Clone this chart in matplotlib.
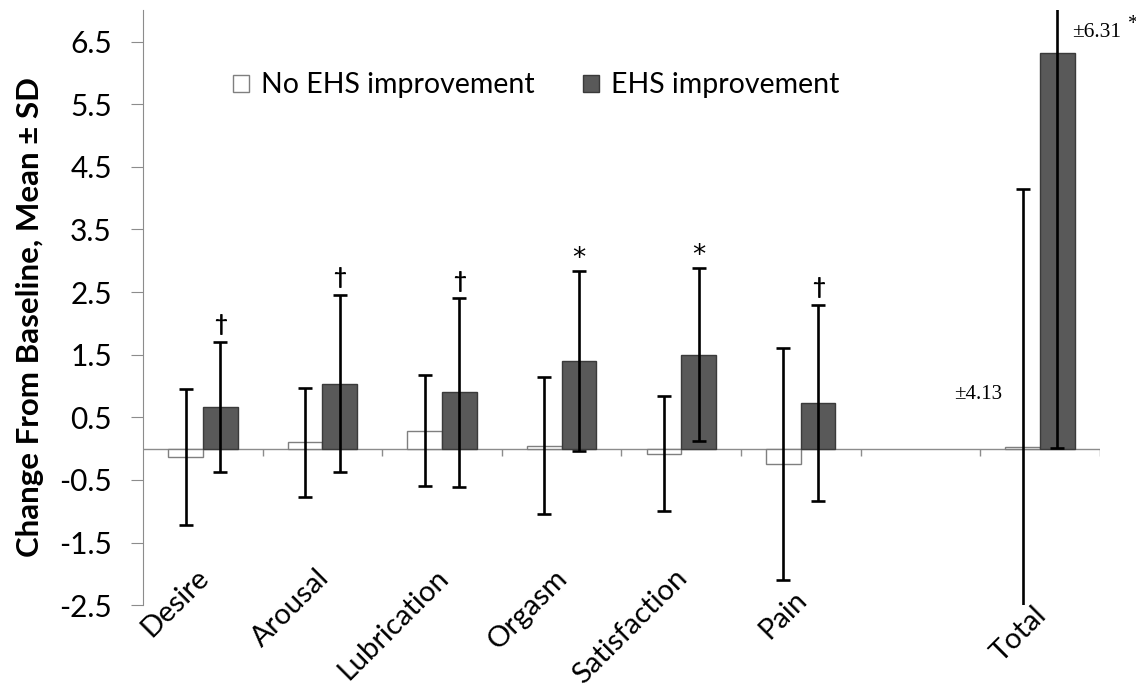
import numpy as np
import matplotlib
matplotlib.use("Agg")
import matplotlib.pyplot as plt
import matplotlib.patches as mpatches

plt.rcParams["font.family"] = ["Lato", "DejaVu Sans"]

# Data
categories = ["Desire", "Arousal", "Lubrication", "Orgasm", "Satisfaction", "Pain", "", "Total"]
no_mean = [-0.13, 0.10, 0.29, 0.05, -0.08, -0.24, np.nan, 0.02]
no_sd = [1.09, 0.87, 0.88, 1.10, 0.92, 1.85, np.nan, 4.13]
ehs_mean = [0.67, 1.04, 0.90, 1.40, 1.50, 0.73, np.nan, 6.32]
ehs_sd = [1.04, 1.42, 1.51, 1.43, 1.38, 1.57, np.nan, 6.31]
sig_marks = ["†", "†", "†", "*", "*", "†", "", ""]
total_sd_labels = ["±4.13", "±6.31"]

DARK = "#595959"
GRID_GRAY = "#8c8c8c"
YMIN, YMAX = -2.5, 7.0
W = 0.29

fig = plt.figure(figsize=(11.36, 6.87), dpi=100)
ax = fig.add_axes([0.126, 0.119, 0.842, 0.866])

x = np.arange(len(categories))
xn = x - W / 2
xe = x + W / 2

ax.bar(xn, no_mean, W, color="white", edgecolor="#7f7f7f", lw=1.0, zorder=2)
ax.bar(xe, ehs_mean, W, color=DARK, edgecolor="#3a3a3a", lw=1.0, zorder=2)
ekw = dict(fmt="none", ecolor="black", elinewidth=1.9, capsize=4.7, capthick=1.9, zorder=3)
ax.errorbar(xn, no_mean, yerr=no_sd, **ekw)
ax.errorbar(xe, ehs_mean, yerr=ehs_sd, **ekw)

# significance marks above the EHS whiskers
for xi, m, s, mk in zip(xe, ehs_mean, ehs_sd, sig_marks):
    if mk == "†":
        ax.annotate(mk, (xi, m + s), xytext=(0, 12), textcoords="offset points",
                    ha="center", va="center", fontsize=16, fontweight="bold")
    elif mk == "*":
        ax.annotate(mk, (xi, m + s), xytext=(0, 9), textcoords="offset points",
                    ha="center", va="center", fontsize=19, family="DejaVu Sans")

# SD labels on the Total group
serif = "Liberation Serif"
ax.text(xn[-1] - 0.17, 0.87, total_sd_labels[0], ha="right", va="center",
        fontsize=15, family=serif)
ax.text(xe[-1] + 0.125, 6.65, total_sd_labels[1], ha="left", va="center",
        fontsize=15.5, family=serif)
ax.text(xe[-1] + 0.59, 6.78, "*", ha="left", va="center", fontsize=15, family=serif)

# axes styling
ax.set_xlim(-0.5, len(categories) - 0.5)
ax.set_ylim(YMIN, YMAX)
yt = np.arange(-2.5, 7.0, 1.0)
ax.set_yticks(yt)
ax.set_yticklabels([f"{v:.1f}" for v in yt])
for s in ["top", "right", "bottom"]:
    ax.spines[s].set_visible(False)
ax.spines["left"].set_color(GRID_GRAY)
ax.tick_params(axis="y", direction="out", length=8.5, color=GRID_GRAY,
               labelsize=21.5, pad=14)

# zero line with category separator ticks
ax.axhline(0, color=GRID_GRAY, lw=1.0, zorder=1)
bounds = np.arange(len(categories) + 1) - 0.5
ax.vlines(bounds[1:], -0.12, 0, color=GRID_GRAY, lw=1.0, zorder=1)
ax.set_xticks([])

# category labels sit below the lowest whisker (or near the bottom)
for xi, lab, nm, ns, em, es in zip(x, categories, no_mean, no_sd, ehs_mean, ehs_sd):
    if not lab:
        continue
    low = max(min(nm - ns, em - es), YMIN)
    ly = max(min(-1.85, low - 0.1), -2.45)
    ax.text(xi - 0.06, ly, lab, rotation=45, rotation_mode="anchor",
            ha="right", va="top", fontsize=21, clip_on=False)

ax.set_ylabel("Change From Baseline, Mean ± SD", fontsize=22.5, fontweight="bold")
ax.yaxis.set_label_coords(-0.104, 0.484)

handles = [mpatches.Patch(facecolor="white", edgecolor="#7f7f7f", label="No EHS improvement"),
           mpatches.Patch(facecolor=DARK, edgecolor="#3a3a3a", label="EHS improvement")]
ax.legend(handles=handles, loc="center left", bbox_to_anchor=(0.094, 0.874), ncol=2,
          frameon=False, fontsize=20.5, handlelength=0.55, handleheight=0.55,
          handletextpad=0.43, columnspacing=1.7, borderpad=0, borderaxespad=0)

fig.savefig("out.png", dpi=100)
